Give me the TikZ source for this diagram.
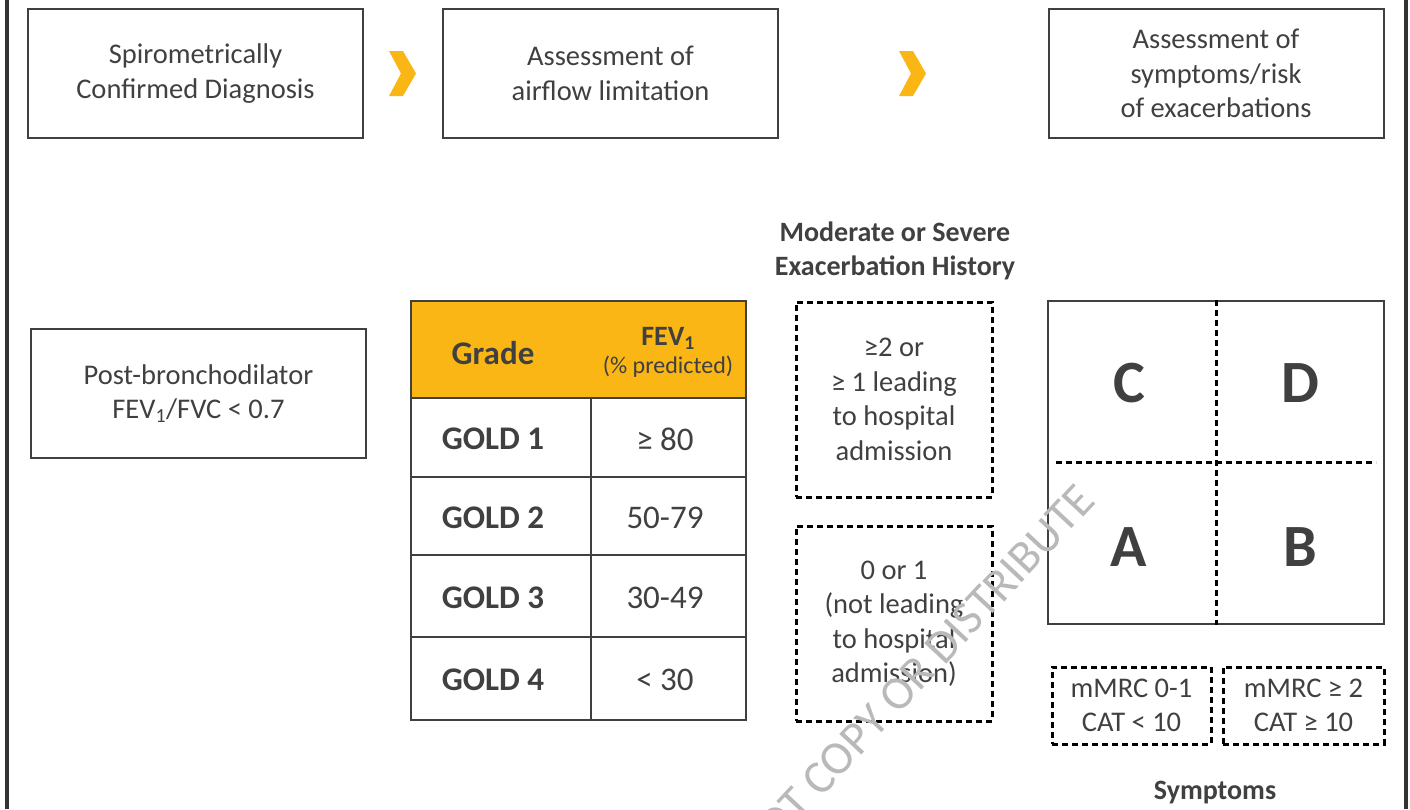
\documentclass[tikz,border=0pt]{standalone}
\usepackage{fontspec}
\setmainfont{Carlito}
\usetikzlibrary{positioning}
\definecolor{inkGray}{RGB}{64,64,64}
\definecolor{goldOrange}{RGB}{250,182,20}
\definecolor{markGray}{RGB}{185,185,185}
\tikzstyle{chart} = [x = 1pt, y = -1pt, every node/.style={text=inkGray, inner sep=0pt, align=center}]
\tikzstyle{stageBox} = [draw=inkGray, line width=2pt, minimum width=335pt, minimum height=129pt, font=\fontsize{28.5}{34.5}\selectfont]
\tikzstyle{tableLine} = [draw=inkGray, line width=2pt]
\tikzstyle{gradeText} = [font=\fontsize{33}{38}\selectfont\bfseries]
\tikzstyle{valueText} = [font=\fontsize{33}{38}\selectfont]
\tikzstyle{dashedBox} = [draw=black, line width=3pt, dash pattern=on 6pt off 4pt, font=\fontsize{28.5}{34.5}\selectfont]
\tikzstyle{gridDash} = [draw=black, line width=3pt, dash pattern=on 6pt off 4pt]
\tikzstyle{groupLetter} = [font=\fontsize{60}{64}\selectfont\bfseries]
\tikzstyle{titleText} = [font=\fontsize{28}{34}\selectfont\bfseries]
\tikzstyle{chevronStyle} = [fill=goldOrange]
\tikzstyle{frameLine} = [draw=inkGray!80!black, line width=3.6pt]
\tikzstyle{watermark} = [text=markGray, font=\fontsize{47}{50}\selectfont, rotate=47]
\newcommand{\chevronMark}[1]{\fill[chevronStyle] (#1,51) -- +(14,0) -- +(27,22.5) -- +(14,45) -- +(0,45) -- +(12,22.5) -- cycle;}

\begin{document}
\begin{tikzpicture}[chart]
  \useasboundingbox (0,0) rectangle (1410,809);
  \draw[frameLine] (6.8,0) -- (6.8,809);
  \draw[frameLine] (1406,0) -- (1406,809);

  % stages
  \node[stageBox] (diagnosis) at (195.5,73.5) {Spirometrically\\Confirmed Diagnosis};
  \node[stageBox] (airflow) at (610.5,73.5) {Assessment of\\airflow limitation};
  \node[stageBox] (symptomsRisk) at (1216,73.5) {Assessment of\\symptoms/risk\\of exacerbations};
  \chevronMark{389}
  \chevronMark{899}

  \node[stageBox] (criterion) at (198.5,393.5) {Post-bronchodilator\\FEV\textsubscript{1}/FVC < 0.7};

  % GOLD table
  \filldraw[tableLine, fill=goldOrange] (411,301) rectangle (746,398);
  \node[gradeText] (gradeHead) at (493,353) {Grade};
  \node[font=\fontsize{28}{30}\selectfont\bfseries] (fevHead) at (668,338) {FEV\textsubscript{1}};
  \node[font=\fontsize{24}{28}\selectfont] (fevUnit) at (668,367) {(\% predicted)};
  \foreach \n/\fev/\ytop/\ybot in {1/{≥ 80}/398/477, 2/{50-79}/477/555, 3/{30-49}/555/637, 4/{< 30}/637/720} {
    \pgfmathsetmacro{\rowMid}{(\ytop + \ybot) / 2}
    \draw[tableLine] (411,\ytop) rectangle (591,\ybot);
    \draw[tableLine] (591,\ytop) rectangle (746,\ybot);
    \node[gradeText] (gold\n) at (493,\rowMid+1.5) {GOLD \n};
    \node[valueText] (fev\n) at (665,\rowMid+1.5) {\fev};
  }

  % exacerbation history
  \node[titleText] (historyTitle) at (895,251) {Moderate or Severe\\Exacerbation History};
  \node[dashedBox, minimum width=196pt, minimum height=195pt] (historyHigh) at (894,399.5) {≥2 or\\≥ 1 leading\\to hospital\\admission};
  \node[dashedBox, minimum width=196pt, minimum height=195pt, below=26pt of historyHigh] (historyLow) {0 or 1\\(not leading\\to hospital\\admission)};

  % ABCD groups
  \node[draw=inkGray, line width=2pt, minimum width=336pt, minimum height=323pt] (groupGrid) at (1216,462.5) {};
  \draw[gridDash] (groupGrid.north) -- (groupGrid.south);
  \draw[gridDash] ([xshift=9pt]groupGrid.west) -- ([xshift=-9pt]groupGrid.east);
  \node[groupLetter] (groupC) at (1129,383) {C};
  \node[groupLetter] (groupD) at (1300,383) {D};
  \node[groupLetter] (groupA) at (1129,547) {A};
  \node[groupLetter] (groupB) at (1300,547) {B};

  \node[dashedBox, minimum width=159pt, minimum height=77pt] (symptomsLow) at (1131.5,705.5) {mMRC 0-1\\CAT < 10};
  \node[dashedBox, minimum width=161pt, minimum height=77pt] (symptomsHigh) at (1303.5,705.5) {mMRC ≥ 2\\CAT ≥ 10};
  \node[titleText] (symptomsTitle) at (1215,793) {Symptoms};

  \node[watermark, anchor=east] (copyMark) at (1086,492) {DO NOT COPY OR DISTRIBUTE};
\end{tikzpicture}
\end{document}
